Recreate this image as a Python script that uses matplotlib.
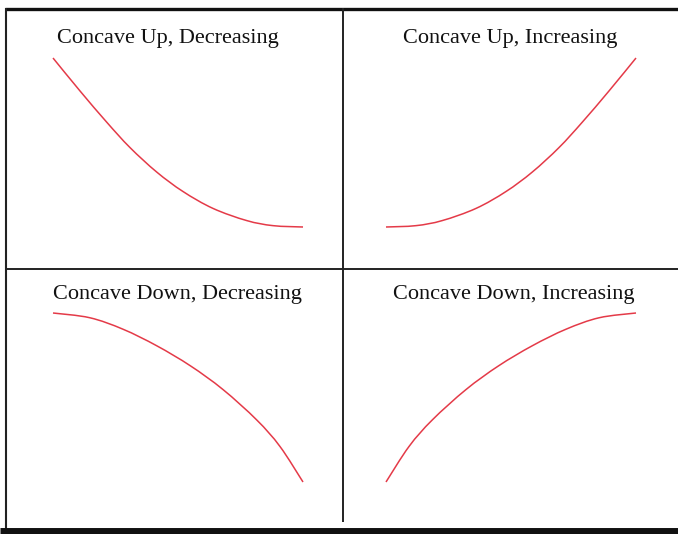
import matplotlib.pyplot as plt
import numpy as np
from matplotlib.path import Path
from matplotlib.patches import PathPatch

# curve shapes (x and height, 0..10 inside each panel box)
x_pts = [0, 1.08, 2.15, 3.08, 4.15, 5.2, 6.4, 7.75, 8.8, 10]
up_dec = [10, 8.05, 6.2, 4.7, 3.25, 2.1, 1.1, 0.38, 0.08, 0]

x_pts2 = [0, 1.47, 2.8, 4.15, 5.5, 6.8, 8.15, 9.08, 10]
down_dec = [10, 9.72, 9.04, 8.06, 6.87, 5.47, 3.67, 2.1, 0]

titles = ['Concave Up, Decreasing', 'Concave Up, Increasing',
          'Concave Down, Decreasing', 'Concave Down, Increasing']


def smooth_path(xs, ys):
    # bezier segments through the read points (catmull-rom tangents)
    p = np.column_stack([xs, ys]).astype(float)
    n = len(p)
    verts = [p[0]]
    codes = [Path.MOVETO]
    for i in range(n - 1):
        p0 = p[i - 1] if i > 0 else p[i]
        p3 = p[i + 2] if i + 2 < n else p[i + 1]
        c1 = p[i] + (p[i + 1] - p0) / 6
        c2 = p[i + 1] - (p3 - p[i]) / 6
        verts += [c1, c2, p[i + 1]]
        codes += [Path.CURVE4] * 3
    return Path(verts, codes)


W, H = 678, 534
fig = plt.figure(figsize=(W / 100, H / 100), dpi=100)

# background axes in pixel units for the frame and titles
bg = fig.add_axes([0, 0, 1, 1])
bg.set_xlim(0, W)
bg.set_ylim(H, 0)
bg.axis('off')

bg.plot([5, W], [8.5, 8.5], color='#111111', lw=2.4, solid_capstyle='butt')
bg.plot([6, 6], [8, 530], color='#222222', lw=1.5, solid_capstyle='butt')
bg.plot([0, W], [531, 531], color='#111111', lw=5, solid_capstyle='butt')
bg.plot([343, 343], [8, 522], color='#222222', lw=1.4, solid_capstyle='butt')
bg.plot([6, W], [269, 269], color='#222222', lw=1.4, solid_capstyle='butt')

title_pos = [(168, 43), (510, 43), (177, 299), (514, 299)]
for t, (tx, ty) in zip(titles, title_pos):
    bg.text(tx, ty, t, ha='center', va='baseline', fontsize=16,
            family='Liberation Serif', color='#111111')

# panel boxes (left, top, right, bottom) in pixels
boxes = [(53, 58, 303, 227), (386, 58, 636, 227),
         (53, 313, 303, 482), (386, 313, 636, 482)]
curves = [
    (x_pts, up_dec, False),
    (x_pts, up_dec, True),
    (x_pts2, down_dec, False),
    (x_pts2, down_dec, True),
]
red = '#e43a48'
for (l, t, r, b), (xs, ys, mirror) in zip(boxes, curves):
    ax = fig.add_axes([l / W, 1 - b / H, (r - l) / W, (b - t) / H])
    ax.set_xlim(0, 10)
    ax.set_ylim(0, 10)
    ax.axis('off')
    if mirror:
        ax.set_xlim(10, 0)
    ax.add_patch(PathPatch(smooth_path(xs, ys), fill=False, edgecolor=red,
                           lw=1.1, clip_on=False))

fig.savefig('out.png', dpi=100)
